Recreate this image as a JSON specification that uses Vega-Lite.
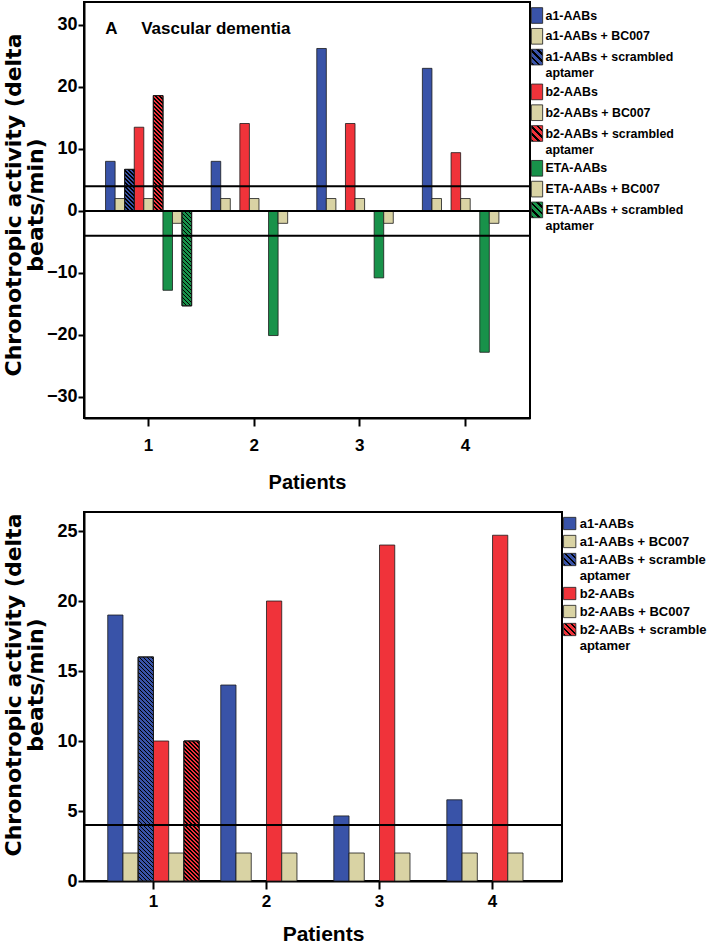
{
  "$schema": "https://vega.github.io/schema/vega-lite/v6.json",
  "background": "white",
  "padding": {"left": 0, "right": 0, "top": 1, "bottom": 0},
  "config": {
    "font": "Liberation Sans",
    "view": {"stroke": "black", "strokeWidth": 2},
    "style": {"guide-label": {"lineHeight": 16.3}},
    "axis": {
      "domainColor": "black", "domainWidth": 2, "tickColor": "black", "tickWidth": 2,
      "labelColor": "black", "titleColor": "black", "labelFontWeight": "bold",
      "titleFontWeight": "bold", "grid": false, "zindex": 1
    },
    "legend": {
      "labelColor": "black", "labelFontWeight": "bold", "labelLimit": 400, "padding": 0,
      "symbolStrokeColor": "#1a1a1a", "symbolStrokeWidth": 0.8, "symbolOpacity": 1
    }
  },
  "params": [
    {"name": "legBlue", "value": [{"offset":0,"color":"#000"},{"offset":0.1,"color":"#000"},{"offset":0.1,"color":"#3953a8"},{"offset":0.25,"color":"#3953a8"},{"offset":0.25,"color":"#000"},{"offset":0.35,"color":"#000"},{"offset":0.35,"color":"#3953a8"},{"offset":0.5,"color":"#3953a8"},{"offset":0.5,"color":"#000"},{"offset":0.6,"color":"#000"},{"offset":0.6,"color":"#3953a8"},{"offset":0.75,"color":"#3953a8"},{"offset":0.75,"color":"#000"},{"offset":0.85,"color":"#000"},{"offset":0.85,"color":"#3953a8"},{"offset":1,"color":"#3953a8"}]},
    {"name": "legRed", "value": [{"offset":0,"color":"#000"},{"offset":0.1,"color":"#000"},{"offset":0.1,"color":"#f0333a"},{"offset":0.25,"color":"#f0333a"},{"offset":0.25,"color":"#000"},{"offset":0.35,"color":"#000"},{"offset":0.35,"color":"#f0333a"},{"offset":0.5,"color":"#f0333a"},{"offset":0.5,"color":"#000"},{"offset":0.6,"color":"#000"},{"offset":0.6,"color":"#f0333a"},{"offset":0.75,"color":"#f0333a"},{"offset":0.75,"color":"#000"},{"offset":0.85,"color":"#000"},{"offset":0.85,"color":"#f0333a"},{"offset":1,"color":"#f0333a"}]},
    {"name": "legGreen", "value": [{"offset":0,"color":"#000"},{"offset":0.1,"color":"#000"},{"offset":0.1,"color":"#18924a"},{"offset":0.25,"color":"#18924a"},{"offset":0.25,"color":"#000"},{"offset":0.35,"color":"#000"},{"offset":0.35,"color":"#18924a"},{"offset":0.5,"color":"#18924a"},{"offset":0.5,"color":"#000"},{"offset":0.6,"color":"#000"},{"offset":0.6,"color":"#18924a"},{"offset":0.75,"color":"#18924a"},{"offset":0.75,"color":"#000"},{"offset":0.85,"color":"#000"},{"offset":0.85,"color":"#18924a"},{"offset":1,"color":"#18924a"}]},
    {"name": "hatch", "value": [
      {"offset":0,"color":"#000"},{"offset":0.0067,"color":"#000"},{"offset":0.0067,"color":"transparent"},{"offset":0.0167,"color":"transparent"},
      {"offset":0.0167,"color":"#000"},{"offset":0.0233,"color":"#000"},{"offset":0.0233,"color":"transparent"},{"offset":0.0333,"color":"transparent"},
      {"offset":0.0333,"color":"#000"},{"offset":0.04,"color":"#000"},{"offset":0.04,"color":"transparent"},{"offset":0.05,"color":"transparent"},
      {"offset":0.05,"color":"#000"},{"offset":0.0567,"color":"#000"},{"offset":0.0567,"color":"transparent"},{"offset":0.0667,"color":"transparent"},
      {"offset":0.0667,"color":"#000"},{"offset":0.0733,"color":"#000"},{"offset":0.0733,"color":"transparent"},{"offset":0.0833,"color":"transparent"},
      {"offset":0.0833,"color":"#000"},{"offset":0.09,"color":"#000"},{"offset":0.09,"color":"transparent"},{"offset":0.1,"color":"transparent"},
      {"offset":0.1,"color":"#000"},{"offset":0.1067,"color":"#000"},{"offset":0.1067,"color":"transparent"},{"offset":0.1167,"color":"transparent"},
      {"offset":0.1167,"color":"#000"},{"offset":0.1233,"color":"#000"},{"offset":0.1233,"color":"transparent"},{"offset":0.1333,"color":"transparent"},
      {"offset":0.1333,"color":"#000"},{"offset":0.14,"color":"#000"},{"offset":0.14,"color":"transparent"},{"offset":0.15,"color":"transparent"},
      {"offset":0.15,"color":"#000"},{"offset":0.1567,"color":"#000"},{"offset":0.1567,"color":"transparent"},{"offset":0.1667,"color":"transparent"},
      {"offset":0.1667,"color":"#000"},{"offset":0.1733,"color":"#000"},{"offset":0.1733,"color":"transparent"},{"offset":0.1833,"color":"transparent"},
      {"offset":0.1833,"color":"#000"},{"offset":0.19,"color":"#000"},{"offset":0.19,"color":"transparent"},{"offset":0.2,"color":"transparent"},
      {"offset":0.2,"color":"#000"},{"offset":0.2067,"color":"#000"},{"offset":0.2067,"color":"transparent"},{"offset":0.2167,"color":"transparent"},
      {"offset":0.2167,"color":"#000"},{"offset":0.2233,"color":"#000"},{"offset":0.2233,"color":"transparent"},{"offset":0.2333,"color":"transparent"},
      {"offset":0.2333,"color":"#000"},{"offset":0.24,"color":"#000"},{"offset":0.24,"color":"transparent"},{"offset":0.25,"color":"transparent"},
      {"offset":0.25,"color":"#000"},{"offset":0.2567,"color":"#000"},{"offset":0.2567,"color":"transparent"},{"offset":0.2667,"color":"transparent"},
      {"offset":0.2667,"color":"#000"},{"offset":0.2733,"color":"#000"},{"offset":0.2733,"color":"transparent"},{"offset":0.2833,"color":"transparent"},
      {"offset":0.2833,"color":"#000"},{"offset":0.29,"color":"#000"},{"offset":0.29,"color":"transparent"},{"offset":0.3,"color":"transparent"},
      {"offset":0.3,"color":"#000"},{"offset":0.3067,"color":"#000"},{"offset":0.3067,"color":"transparent"},{"offset":0.3167,"color":"transparent"},
      {"offset":0.3167,"color":"#000"},{"offset":0.3233,"color":"#000"},{"offset":0.3233,"color":"transparent"},{"offset":0.3333,"color":"transparent"},
      {"offset":0.3333,"color":"#000"},{"offset":0.34,"color":"#000"},{"offset":0.34,"color":"transparent"},{"offset":0.35,"color":"transparent"},
      {"offset":0.35,"color":"#000"},{"offset":0.3567,"color":"#000"},{"offset":0.3567,"color":"transparent"},{"offset":0.3667,"color":"transparent"},
      {"offset":0.3667,"color":"#000"},{"offset":0.3733,"color":"#000"},{"offset":0.3733,"color":"transparent"},{"offset":0.3833,"color":"transparent"},
      {"offset":0.3833,"color":"#000"},{"offset":0.39,"color":"#000"},{"offset":0.39,"color":"transparent"},{"offset":0.4,"color":"transparent"},
      {"offset":0.4,"color":"#000"},{"offset":0.4067,"color":"#000"},{"offset":0.4067,"color":"transparent"},{"offset":0.4167,"color":"transparent"},
      {"offset":0.4167,"color":"#000"},{"offset":0.4233,"color":"#000"},{"offset":0.4233,"color":"transparent"},{"offset":0.4333,"color":"transparent"},
      {"offset":0.4333,"color":"#000"},{"offset":0.44,"color":"#000"},{"offset":0.44,"color":"transparent"},{"offset":0.45,"color":"transparent"},
      {"offset":0.45,"color":"#000"},{"offset":0.4567,"color":"#000"},{"offset":0.4567,"color":"transparent"},{"offset":0.4667,"color":"transparent"},
      {"offset":0.4667,"color":"#000"},{"offset":0.4733,"color":"#000"},{"offset":0.4733,"color":"transparent"},{"offset":0.4833,"color":"transparent"},
      {"offset":0.4833,"color":"#000"},{"offset":0.49,"color":"#000"},{"offset":0.49,"color":"transparent"},{"offset":0.5,"color":"transparent"},
      {"offset":0.5,"color":"#000"},{"offset":0.5067,"color":"#000"},{"offset":0.5067,"color":"transparent"},{"offset":0.5167,"color":"transparent"},
      {"offset":0.5167,"color":"#000"},{"offset":0.5233,"color":"#000"},{"offset":0.5233,"color":"transparent"},{"offset":0.5333,"color":"transparent"},
      {"offset":0.5333,"color":"#000"},{"offset":0.54,"color":"#000"},{"offset":0.54,"color":"transparent"},{"offset":0.55,"color":"transparent"},
      {"offset":0.55,"color":"#000"},{"offset":0.5567,"color":"#000"},{"offset":0.5567,"color":"transparent"},{"offset":0.5667,"color":"transparent"},
      {"offset":0.5667,"color":"#000"},{"offset":0.5733,"color":"#000"},{"offset":0.5733,"color":"transparent"},{"offset":0.5833,"color":"transparent"},
      {"offset":0.5833,"color":"#000"},{"offset":0.59,"color":"#000"},{"offset":0.59,"color":"transparent"},{"offset":0.6,"color":"transparent"},
      {"offset":0.6,"color":"#000"},{"offset":0.6067,"color":"#000"},{"offset":0.6067,"color":"transparent"},{"offset":0.6167,"color":"transparent"},
      {"offset":0.6167,"color":"#000"},{"offset":0.6233,"color":"#000"},{"offset":0.6233,"color":"transparent"},{"offset":0.6333,"color":"transparent"},
      {"offset":0.6333,"color":"#000"},{"offset":0.64,"color":"#000"},{"offset":0.64,"color":"transparent"},{"offset":0.65,"color":"transparent"},
      {"offset":0.65,"color":"#000"},{"offset":0.6567,"color":"#000"},{"offset":0.6567,"color":"transparent"},{"offset":0.6667,"color":"transparent"},
      {"offset":0.6667,"color":"#000"},{"offset":0.6733,"color":"#000"},{"offset":0.6733,"color":"transparent"},{"offset":0.6833,"color":"transparent"},
      {"offset":0.6833,"color":"#000"},{"offset":0.69,"color":"#000"},{"offset":0.69,"color":"transparent"},{"offset":0.7,"color":"transparent"},
      {"offset":0.7,"color":"#000"},{"offset":0.7067,"color":"#000"},{"offset":0.7067,"color":"transparent"},{"offset":0.7167,"color":"transparent"},
      {"offset":0.7167,"color":"#000"},{"offset":0.7233,"color":"#000"},{"offset":0.7233,"color":"transparent"},{"offset":0.7333,"color":"transparent"},
      {"offset":0.7333,"color":"#000"},{"offset":0.74,"color":"#000"},{"offset":0.74,"color":"transparent"},{"offset":0.75,"color":"transparent"},
      {"offset":0.75,"color":"#000"},{"offset":0.7567,"color":"#000"},{"offset":0.7567,"color":"transparent"},{"offset":0.7667,"color":"transparent"},
      {"offset":0.7667,"color":"#000"},{"offset":0.7733,"color":"#000"},{"offset":0.7733,"color":"transparent"},{"offset":0.7833,"color":"transparent"},
      {"offset":0.7833,"color":"#000"},{"offset":0.79,"color":"#000"},{"offset":0.79,"color":"transparent"},{"offset":0.8,"color":"transparent"},
      {"offset":0.8,"color":"#000"},{"offset":0.8067,"color":"#000"},{"offset":0.8067,"color":"transparent"},{"offset":0.8167,"color":"transparent"},
      {"offset":0.8167,"color":"#000"},{"offset":0.8233,"color":"#000"},{"offset":0.8233,"color":"transparent"},{"offset":0.8333,"color":"transparent"},
      {"offset":0.8333,"color":"#000"},{"offset":0.84,"color":"#000"},{"offset":0.84,"color":"transparent"},{"offset":0.85,"color":"transparent"},
      {"offset":0.85,"color":"#000"},{"offset":0.8567,"color":"#000"},{"offset":0.8567,"color":"transparent"},{"offset":0.8667,"color":"transparent"},
      {"offset":0.8667,"color":"#000"},{"offset":0.8733,"color":"#000"},{"offset":0.8733,"color":"transparent"},{"offset":0.8833,"color":"transparent"},
      {"offset":0.8833,"color":"#000"},{"offset":0.89,"color":"#000"},{"offset":0.89,"color":"transparent"},{"offset":0.9,"color":"transparent"},
      {"offset":0.9,"color":"#000"},{"offset":0.9067,"color":"#000"},{"offset":0.9067,"color":"transparent"},{"offset":0.9167,"color":"transparent"},
      {"offset":0.9167,"color":"#000"},{"offset":0.9233,"color":"#000"},{"offset":0.9233,"color":"transparent"},{"offset":0.9333,"color":"transparent"},
      {"offset":0.9333,"color":"#000"},{"offset":0.94,"color":"#000"},{"offset":0.94,"color":"transparent"},{"offset":0.95,"color":"transparent"},
      {"offset":0.95,"color":"#000"},{"offset":0.9567,"color":"#000"},{"offset":0.9567,"color":"transparent"},{"offset":0.9667,"color":"transparent"},
      {"offset":0.9667,"color":"#000"},{"offset":0.9733,"color":"#000"},{"offset":0.9733,"color":"transparent"},{"offset":0.9833,"color":"transparent"},
      {"offset":0.9833,"color":"#000"},{"offset":0.99,"color":"#000"},{"offset":0.99,"color":"transparent"},{"offset":1,"color":"transparent"}
    ]}
  ],
  "datasets": {
    "vascular": [
      {"patient": 1, "series": "a1-AABs", "value": 8.0},
      {"patient": 1, "series": "a1-AABs + BC007", "value": 2.0},
      {"patient": 1, "series": "a1-AABs + scrambled aptamer", "value": 6.7},
      {"patient": 1, "series": "b2-AABs", "value": 13.5},
      {"patient": 1, "series": "b2-AABs + BC007", "value": 2.0},
      {"patient": 1, "series": "b2-AABs + scrambled aptamer", "value": 18.6},
      {"patient": 1, "series": "ETA-AABs", "value": -12.8},
      {"patient": 1, "series": "ETA-AABs + BC007", "value": -2.0},
      {"patient": 1, "series": "ETA-AABs + scrambled aptamer", "value": -15.3},
      {"patient": 2, "series": "a1-AABs", "value": 8.0},
      {"patient": 2, "series": "a1-AABs + BC007", "value": 2.0},
      {"patient": 2, "series": "b2-AABs", "value": 14.1},
      {"patient": 2, "series": "b2-AABs + BC007", "value": 2.0},
      {"patient": 2, "series": "ETA-AABs", "value": -20.1},
      {"patient": 2, "series": "ETA-AABs + BC007", "value": -2.0},
      {"patient": 3, "series": "a1-AABs", "value": 26.2},
      {"patient": 3, "series": "a1-AABs + BC007", "value": 2.0},
      {"patient": 3, "series": "b2-AABs", "value": 14.1},
      {"patient": 3, "series": "b2-AABs + BC007", "value": 2.0},
      {"patient": 3, "series": "ETA-AABs", "value": -10.8},
      {"patient": 3, "series": "ETA-AABs + BC007", "value": -2.0},
      {"patient": 4, "series": "a1-AABs", "value": 23.0},
      {"patient": 4, "series": "a1-AABs + BC007", "value": 2.0},
      {"patient": 4, "series": "b2-AABs", "value": 9.4},
      {"patient": 4, "series": "b2-AABs + BC007", "value": 2.0},
      {"patient": 4, "series": "ETA-AABs", "value": -22.8},
      {"patient": 4, "series": "ETA-AABs + BC007", "value": -2.0}
    ],
    "second": [
      {"patient": 1, "series": "a1-AABs", "value": 19.0},
      {"patient": 1, "series": "a1-AABs + BC007", "value": 2.0},
      {"patient": 1, "series": "a1-AABs + scramble aptamer", "value": 16.0},
      {"patient": 1, "series": "b2-AABs", "value": 10.0},
      {"patient": 1, "series": "b2-AABs + BC007", "value": 2.0},
      {"patient": 1, "series": "b2-AABs + scramble aptamer", "value": 10.0},
      {"patient": 2, "series": "a1-AABs", "value": 14.0},
      {"patient": 2, "series": "a1-AABs + BC007", "value": 2.0},
      {"patient": 2, "series": "b2-AABs", "value": 20.0},
      {"patient": 2, "series": "b2-AABs + BC007", "value": 2.0},
      {"patient": 3, "series": "a1-AABs", "value": 4.65},
      {"patient": 3, "series": "a1-AABs + BC007", "value": 2.0},
      {"patient": 3, "series": "b2-AABs", "value": 24.0},
      {"patient": 3, "series": "b2-AABs + BC007", "value": 2.0},
      {"patient": 4, "series": "a1-AABs", "value": 5.8},
      {"patient": 4, "series": "a1-AABs + BC007", "value": 2.0},
      {"patient": 4, "series": "b2-AABs", "value": 24.7},
      {"patient": 4, "series": "b2-AABs + BC007", "value": 2.0}
    ]
  },
  "spacing": 18,
  "resolve": {"scale": {"color": "independent", "xOffset": "independent"}, "legend": {"color": "independent"}},
  "vconcat": [
    {
      "width": 446,
      "height": 416,
      "layer": [
        {
          "data": {"name": "vascular"},
          "mark": {"type": "bar", "stroke": "#1a1a1a", "strokeWidth": 0.8},
          "encoding": {
            "x": {
              "field": "patient", "type": "ordinal", "title": "Patients",
              "scale": {"paddingInner": 0.185, "paddingOuter": 0.204},
              "axis": {"labelAngle": 0, "labelFontSize": 17, "tickSize": 8, "labelPadding": 11, "titleFontSize": 20, "titlePadding": 19}
            },
            "xOffset": {
              "field": "series", "type": "nominal",
              "scale": {"domain": ["a1-AABs", "a1-AABs + BC007", "a1-AABs + scrambled aptamer", "b2-AABs", "b2-AABs + BC007", "b2-AABs + scrambled aptamer", "ETA-AABs", "ETA-AABs + BC007", "ETA-AABs + scrambled aptamer"], "paddingInner": 0, "paddingOuter": 0}
            },
            "y": {
              "field": "value", "type": "quantitative",
              "title": ["Chronotropic activity (delta", "beats/min)"],
              "scale": {"domain": [-33.4, 33.7], "nice": false, "zero": false},
              "axis": {
                "values": [-30, -20, -10, 0, 10, 20, 30],
                "titleFont": "DejaVu Sans", "titleFontSize": 22, "titleLineHeight": 22,
                "titleX": -64, "titleY": 202.5, "titleAngle": 270, "titleAlign": "center", "titleBaseline": "alphabetic",
                "labelFontSize": 18, "tickSize": 6, "labelPadding": 1
              }
            },
            "color": {
              "field": "series", "type": "nominal",
              "scale": {
                "domain": ["a1-AABs", "a1-AABs + BC007", "a1-AABs + scrambled aptamer", "b2-AABs", "b2-AABs + BC007", "b2-AABs + scrambled aptamer", "ETA-AABs", "ETA-AABs + BC007", "ETA-AABs + scrambled aptamer"],
                "range": [
                  "#3953a8", "#d9d3a4",
                  {"expr": "{'gradient':'linear','x1':0,'y1':1,'x2':0.815,'y2':-0.133,'stops':legBlue}"},
                  "#f0333a", "#d9d3a4",
                  {"expr": "{'gradient':'linear','x1':0,'y1':1,'x2':0.815,'y2':-0.133,'stops':legRed}"},
                  "#18924a", "#d9d3a4",
                  {"expr": "{'gradient':'linear','x1':0,'y1':1,'x2':0.815,'y2':-0.133,'stops':legGreen}"}
                ]
              },
              "legend": {
                "title": null, "orient": "none", "legendX": 444.5, "legendY": 5,
                "symbolType": "M-0.72,-1H0.72V1H-0.72Z", "symbolSize": 246,
                "labelFontSize": 12.4, "rowPadding": 1.8, "labelOffset": 0,
                "labelExpr": "indexof(datum.label, ' aptamer') > 0 ? [replace(datum.label, ' aptamer', ''), 'aptamer'] : datum.label"
              }
            }
          }
        },
        {
          "data": {"name": "vascular"},
          "transform": [{"filter": "indexof(datum.series, 'scrambled') > 0"}],
          "mark": {
            "type": "bar", "stroke": "#1a1a1a", "strokeWidth": 0.8,
            "fill": {"expr": "indexof(datum.series,'a1')==0 ? '#3953a8' : indexof(datum.series,'b2')==0 ? '#f0333a' : '#18924a'"}
          },
          "encoding": {
            "x": {"field": "patient", "type": "ordinal", "title": "Patients"},
            "xOffset": {"field": "series", "type": "nominal"},
            "y": {"field": "value", "type": "quantitative", "title": ["Chronotropic activity (delta", "beats/min)"]}
          }
        },
        {
          "data": {"name": "vascular"},
          "transform": [{"filter": "indexof(datum.series, 'scrambled') > 0"}],
          "mark": {
            "type": "bar", "stroke": "#1a1a1a", "strokeWidth": 0.8,
            "fill": {"expr": "{'gradient':'linear','x1':0,'y1':1,'x2':2294/(91.4+pow(abs(datum.value)*6.2,2)),'y2':1-1488*abs(datum.value)/(91.4+pow(abs(datum.value)*6.2,2)),'stops':hatch}"}
          },
          "encoding": {
            "x": {"field": "patient", "type": "ordinal", "title": "Patients"},
            "xOffset": {"field": "series", "type": "nominal"},
            "y": {"field": "value", "type": "quantitative", "title": ["Chronotropic activity (delta", "beats/min)"]}
          }
        },
        {
          "data": {"values": [{"level": 4}, {"level": 0}, {"level": -4}]},
          "mark": {"type": "rule", "color": "black", "strokeWidth": 2},
          "encoding": {"y": {"field": "level", "type": "quantitative", "title": ["Chronotropic activity (delta", "beats/min)"]}}
        },
        {
          "data": {"values": [{"label": "A\u00a0\u00a0\u00a0\u00a0\u00a0Vascular dementia"}]},
          "mark": {"type": "text", "align": "left", "baseline": "middle", "fontSize": 17, "fontWeight": "bold", "color": "black", "dx": -5},
          "encoding": {
            "x": {"datum": 1, "type": "ordinal", "title": "Patients"},
            "xOffset": {"datum": "a1-AABs"},
            "y": {"datum": 29.4, "type": "quantitative", "title": ["Chronotropic activity (delta", "beats/min)"]},
            "text": {"field": "label"}
          }
        }
      ]
    },
    {
      "width": 478,
      "height": 369,
      "layer": [
        {
          "data": {"name": "second"},
          "mark": {"type": "bar", "stroke": "#1a1a1a", "strokeWidth": 0.8},
          "encoding": {
            "x": {
              "field": "patient", "type": "ordinal", "title": "Patients",
              "scale": {"paddingInner": 0.191, "paddingOuter": 0.21},
              "axis": {"labelAngle": 0, "labelFontSize": 17, "tickSize": 8, "labelPadding": 4, "titleFontSize": 21, "titlePadding": 14}
            },
            "xOffset": {
              "field": "series", "type": "nominal",
              "scale": {"domain": ["a1-AABs", "a1-AABs + BC007", "a1-AABs + scramble aptamer", "b2-AABs", "b2-AABs + BC007", "b2-AABs + scramble aptamer"], "paddingInner": 0, "paddingOuter": 0}
            },
            "y": {
              "field": "value", "type": "quantitative",
              "title": ["Chronotropic activity (delta", "beats/min)"],
              "scale": {"domain": [0, 26.36], "nice": false, "zero": false},
              "axis": {
                "values": [0, 5, 10, 15, 20, 25],
                "titleFont": "DejaVu Sans", "titleFontSize": 22, "titleLineHeight": 22,
                "titleX": -64, "titleY": 172.5, "titleAngle": 270, "titleAlign": "center", "titleBaseline": "alphabetic",
                "labelFontSize": 18, "tickSize": 6, "labelPadding": 1
              }
            },
            "color": {
              "field": "series", "type": "nominal",
              "scale": {
                "domain": ["a1-AABs", "a1-AABs + BC007", "a1-AABs + scramble aptamer", "b2-AABs", "b2-AABs + BC007", "b2-AABs + scramble aptamer"],
                "range": [
                  "#3953a8", "#d9d3a4",
                  {"expr": "{'gradient':'linear','x1':0,'y1':1,'x2':1,'y2':0,'stops':legBlue}"},
                  "#f0333a", "#d9d3a4",
                  {"expr": "{'gradient':'linear','x1':0,'y1':1,'x2':1,'y2':0,'stops':legRed}"}
                ]
              },
              "legend": {
                "title": null, "orient": "none", "legendX": 478.7, "legendY": 4.5,
                "symbolType": "square", "symbolSize": 151,
                "labelFontSize": 13, "rowPadding": 2, "labelOffset": 3,
                "labelExpr": "indexof(datum.label, ' aptamer') > 0 ? [replace(datum.label, ' aptamer', ''), 'aptamer'] : datum.label"
              }
            }
          }
        },
        {
          "data": {"name": "second"},
          "transform": [{"filter": "indexof(datum.series, 'scramble') > 0"}],
          "mark": {
            "type": "bar", "stroke": "#1a1a1a", "strokeWidth": 0.8,
            "fill": {"expr": "indexof(datum.series,'a1')==0 ? '#3953a8' : '#f0333a'"}
          },
          "encoding": {
            "x": {"field": "patient", "type": "ordinal", "title": "Patients"},
            "xOffset": {"field": "series", "type": "nominal"},
            "y": {"field": "value", "type": "quantitative", "title": ["Chronotropic activity (delta", "beats/min)"]}
          }
        },
        {
          "data": {"name": "second"},
          "transform": [{"filter": "indexof(datum.series, 'scramble') > 0"}],
          "mark": {
            "type": "bar", "stroke": "#1a1a1a", "strokeWidth": 0.8,
            "fill": {"expr": "{'gradient':'linear','x1':0,'y1':1,'x2':3658/(232.3+pow(datum.value*14,2)),'y2':1-3360*datum.value/(232.3+pow(datum.value*14,2)),'stops':hatch}"}
          },
          "encoding": {
            "x": {"field": "patient", "type": "ordinal", "title": "Patients"},
            "xOffset": {"field": "series", "type": "nominal"},
            "y": {"field": "value", "type": "quantitative", "title": ["Chronotropic activity (delta", "beats/min)"]}
          }
        },
        {
          "data": {"values": [{"level": 4}]},
          "mark": {"type": "rule", "color": "black", "strokeWidth": 2},
          "encoding": {"y": {"field": "level", "type": "quantitative", "title": ["Chronotropic activity (delta", "beats/min)"]}}
        }
      ]
    }
  ]
}
